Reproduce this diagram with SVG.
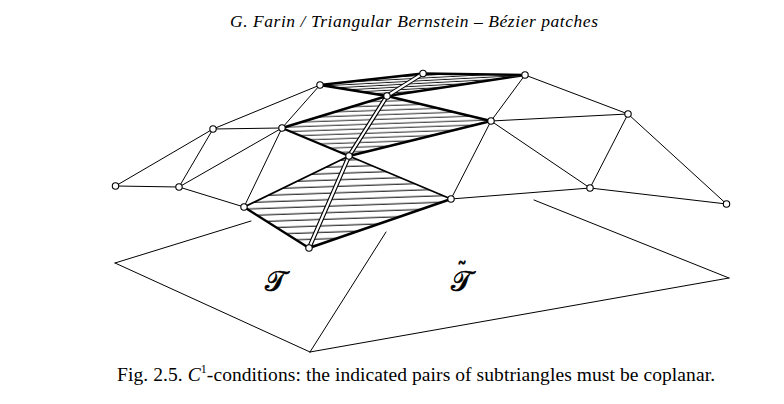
<svg xmlns="http://www.w3.org/2000/svg" width="784" height="404" viewBox="0 0 784 404">
<defs>
<style>
.thin{stroke:#000;stroke-width:1;fill:none;stroke-linecap:round}
.thick{stroke:#000;stroke-width:2.4;fill:none;stroke-linecap:round;stroke-linejoin:round}
.med{stroke:#000;stroke-width:1.8;fill:none;stroke-linecap:round}
.node{fill:#fff;stroke:#000;stroke-width:1.1}
.rail-o{stroke:#000;stroke-width:4.4;fill:none;stroke-linejoin:round}
.rail-i{stroke:#fff;stroke-width:2.2;fill:none;stroke-linejoin:round}
.hdr{font-family:"Liberation Serif","Times New Roman",serif;font-style:italic;font-size:17.5px}
.cap{font-family:"Liberation Serif","Times New Roman",serif;font-size:19.5px}
.lbl{font-family:"DejaVu Serif","Liberation Serif",serif;font-size:28px;stroke:#000;stroke-width:0.7}
</style>
<pattern id="h6" patternUnits="userSpaceOnUse" width="20" height="6.5" patternTransform="rotate(-2)">
<line x1="0" y1="3" x2="20" y2="3" stroke="#000" stroke-width="1"/>
</pattern>
<pattern id="h4" patternUnits="userSpaceOnUse" width="20" height="4.5" patternTransform="rotate(-2)">
<line x1="0" y1="2" x2="20" y2="2" stroke="#000" stroke-width="0.9"/>
</pattern>
<pattern id="h3" patternUnits="userSpaceOnUse" width="20" height="2.6" patternTransform="rotate(-3)">
<line x1="0" y1="1.2" x2="20" y2="1.2" stroke="#000" stroke-width="0.9"/>
</pattern>
</defs>
<rect width="784" height="404" fill="#fff"/>

<text class="hdr" x="230" y="27" textLength="368" lengthAdjust="spacing">G. Farin  /  Triangular Bernstein – Bézier patches</text>

<g id="domain">
<line class="thin" x1="115" y1="263" x2="251" y2="221"/>
<line class="thin" x1="115" y1="263" x2="310" y2="352"/>
<line class="thin" x1="310" y1="352" x2="729" y2="278"/>
<line class="thin" x1="729" y1="278" x2="534" y2="200"/>
<line class="thin" x1="310" y1="352" x2="386" y2="232"/>
<text class="lbl" x="265" y="291">𝒯</text>
<text class="lbl" x="451" y="291">𝒯<tspan font-size="20" dx="-15" dy="-14">˜</tspan></text>
</g>

<g id="hatching">
<polygon points="244,207 349,156 451,199 309,248" fill="url(#h6)"/>
<polygon points="282,128 387,96 491,121 349,156" fill="url(#h4)"/>
<polygon points="320,85 423,73.5 525,75 387,96" fill="url(#h3)"/>
</g>

<g id="connectors">
<line class="thin" x1="115.5" y1="186" x2="179" y2="187"/>
<line class="thin" x1="115.5" y1="186" x2="213" y2="129"/>
<line class="thin" x1="213" y1="129" x2="179" y2="187"/>
<line class="thin" x1="213" y1="129" x2="282" y2="128"/>
<line class="thin" x1="213" y1="129" x2="320" y2="85"/>
<line class="thin" x1="179" y1="187" x2="282" y2="128"/>
<line class="thin" x1="179" y1="187" x2="244" y2="207"/>
<line class="thin" x1="282" y1="128" x2="244" y2="207"/>
<line class="thin" x1="282" y1="128" x2="320" y2="85"/>
<line class="thin" x1="525" y1="75" x2="491" y2="121"/>
<line class="thin" x1="525" y1="75" x2="628" y2="114"/>
<line class="thin" x1="491" y1="121" x2="628" y2="114"/>
<line class="thin" x1="491" y1="121" x2="590" y2="188"/>
<line class="thin" x1="491" y1="121" x2="451" y2="199"/>
<line class="thin" x1="451" y1="199" x2="590" y2="188"/>
<line class="thin" x1="590" y1="188" x2="628" y2="114"/>
<line class="thin" x1="590" y1="188" x2="726.5" y2="204"/>
<line class="thin" x1="628" y1="114" x2="726.5" y2="204"/>
<polygon class="thick" points="320,85 423,73.5 525,75 387,96"/>
<polyline class="thick" points="387,96 282,128 349,156 491,121 387,96"/>
<line class="med" x1="244" y1="207" x2="349" y2="156"/>
<line class="med" x1="349" y1="156" x2="451" y2="199"/>
<polyline class="thick" points="244,207 309,248 451,199"/>
<polyline class="rail-o" points="423,73.5 387,96 349,156 309,248"/>
<polyline class="rail-i" points="423,73.5 387,96 349,156 309,248"/>
</g>

<g id="nA"><circle class="node" cx="115.5" cy="186" r="3.2"/></g>
<g id="nB"><circle class="node" cx="179" cy="187" r="3.2"/></g>
<g id="nC"><circle class="node" cx="213" cy="129" r="3.2"/></g>
<g id="nD"><circle class="node" cx="244" cy="207" r="3.2"/></g>
<g id="nE"><circle class="node" cx="282" cy="128" r="3.2"/></g>
<g id="nF"><circle class="node" cx="320" cy="85" r="3.2"/></g>
<g id="nG"><circle class="node" cx="349" cy="156" r="3.2"/></g>
<g id="nH"><circle class="node" cx="387" cy="96" r="3.2"/></g>
<g id="nI"><circle class="node" cx="423" cy="73.5" r="3.2"/></g>
<g id="nJ"><circle class="node" cx="525" cy="75" r="3.2"/></g>
<g id="nK"><circle class="node" cx="491" cy="121" r="3.2"/></g>
<g id="nL"><circle class="node" cx="451" cy="199" r="3.2"/></g>
<g id="nM"><circle class="node" cx="309" cy="248" r="3.2"/></g>
<g id="nN"><circle class="node" cx="590" cy="188" r="3.2"/></g>
<g id="nO"><circle class="node" cx="628" cy="114" r="3.2"/></g>
<g id="nP"><circle class="node" cx="726.5" cy="204" r="3.2"/></g>

<text class="cap" x="117" y="381" textLength="598" lengthAdjust="spacing">Fig. 2.5. <tspan font-style="italic">C</tspan><tspan font-size="12" dy="-8">1</tspan><tspan dy="8">-conditions: the indicated pairs of subtriangles must be coplanar.</tspan></text>
</svg>
